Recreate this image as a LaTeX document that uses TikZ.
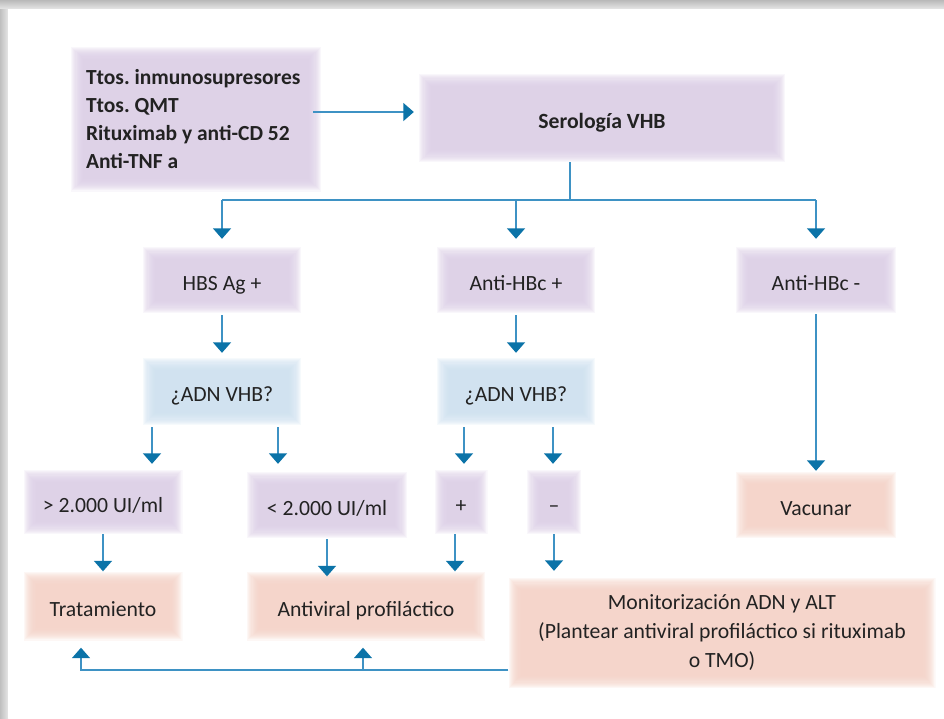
\documentclass[tikz,border=0pt]{standalone}
\usepackage{fontspec}
\setmainfont{Carlito}
\usetikzlibrary{arrows.meta,calc}
\definecolor{lav}{RGB}{220,206,231}
\definecolor{blu}{RGB}{205,225,240}
\definecolor{pch}{RGB}{245,210,199}
\definecolor{lineblue}{RGB}{62,146,196}
\definecolor{headblue}{RGB}{11,115,168}
\definecolor{txt}{RGB}{34,34,34}
\tikzset{
  softbox/.style={inner sep=0pt, text=txt, font=\fontsize{21.7}{28.5}\selectfont,
    path picture={
      \foreach \k in {0,...,11}{
        \fill[#1, opacity=0.16] ([shift={(\k*1.1pt,-\k*1.1pt)}]path picture bounding box.north west)
          rectangle ([shift={(-\k*1.1pt,\k*1.1pt)}]path picture bounding box.south east);
      }}},
  oneline/.style={softbox=#1, text height=20pt, text depth=0pt},
  plain/.style={draw=lineblue, line width=1.5pt},
  arr/.style={plain, -{Triangle[width=18pt,length=10.5pt,color=headblue]}},
}
\begin{document}
\begin{tikzpicture}[x=1pt,y=-1pt]
\useasboundingbox (0,0) rectangle (944,718);
% frame
\shade[top color=gray!55, bottom color=gray!20] (0,0) rectangle (944,9);
\shade[left color=gray!50, right color=gray!20] (0,9) rectangle (8,718);
\fill[white] (8,9) rectangle (944,718);

% nodes
\node[softbox=lav, minimum width=250pt, minimum height=145pt, text width=220pt, align=flush left, font=\fontsize{21.5}{28}\selectfont\bfseries\frenchspacing] (src) at (196,119)
  {Ttos. inmunosupresores\\Ttos. QMT\\Rituximab y anti-CD 52\\Anti-TNF a};
\node[oneline=lav, minimum width=366pt, minimum height=88pt, font=\fontsize{21.7}{28}\selectfont\bfseries] (sero) at (602,118) {Serología VHB};

\node[oneline=lav, minimum width=158pt, minimum height=66pt] (hbs) at (222,280) {HBS Ag +};
\node[oneline=lav, minimum width=158pt, minimum height=66pt] (ahp) at (516,280) {Anti-HBc +};
\node[oneline=lav, minimum width=160pt, minimum height=66pt] (ahm) at (816,280) {Anti-HBc -};

\node[oneline=blu, minimum width=158pt, minimum height=67pt] (adn1) at (222,391.5) {¿ADN VHB?};
\node[oneline=blu, minimum width=158pt, minimum height=67pt] (adn2) at (516,391.5) {¿ADN VHB?};

\node[oneline=lav, minimum width=159pt, minimum height=64pt] (gt) at (103,502) {> 2.000 UI/ml};
\node[oneline=lav, minimum width=160pt, minimum height=66pt] (lt) at (327,505) {< 2.000 UI/ml};
\node[oneline=lav, minimum width=53pt, minimum height=64pt] (pos) at (461,502) {+};
\node[oneline=lav, minimum width=54pt, minimum height=64pt] (neg) at (554,502) {–};
\node[oneline=pch, minimum width=160pt, minimum height=66pt] (vac) at (816,505) {Vacunar};

\node[oneline=pch, minimum width=159pt, minimum height=69pt] (trat) at (103,606) {Tratamiento};
\node[oneline=pch, minimum width=238pt, minimum height=69pt] (anti) at (366,606) {Antiviral profiláctico};
\node[softbox=pch, minimum width=427pt, minimum height=110pt, align=center, font=\fontsize{21.7}{29}\selectfont] (mon) at (722,633)
  {Monitorización ADN y ALT\\(Plantear antiviral profiláctico si rituximab\\o TMO)};

% connectors
\draw[arr, shorten >=5pt] ([xshift=-8pt,yshift=7pt]src.east) -- ([yshift=6pt]sero.west);

\coordinate (split) at ([xshift=-32pt,yshift=-38pt]sero.south);
\draw[plain] ([xshift=-32pt]sero.south) -- (split);
\draw[plain] (split -| hbs.north) -- (split -| ahm.north);
\draw[arr, shorten >=8pt] (split -| hbs.north) -- (hbs.north);
\draw[arr, shorten >=8pt] (split -| ahp.north) -- (ahp.north);
\draw[arr, shorten >=8pt] (split -| ahm.north) -- (ahm.north);

\draw[arr, shorten <=2pt, shorten >=5pt] (hbs.south) -- (adn1.north);
\draw[arr, shorten <=2pt, shorten >=5pt] (ahp.south) -- (adn2.north);
\draw[arr, shorten <=1pt, shorten >=1pt] (ahm.south) -- (vac.north);

\coordinate (a1) at ([xshift=-70pt]adn1.south);
\coordinate (a2) at ([xshift=56pt]adn1.south);
\coordinate (a3) at ([xshift=-52pt]adn2.south);
\coordinate (a4) at ([xshift=37pt]adn2.south);
\draw[arr, shorten <=2pt, shorten >=6pt] (a1) -- (a1 |- gt.north);
\draw[arr, shorten <=2pt, shorten >=8pt] (a2) -- (a2 |- lt.north);
\draw[arr, shorten <=2pt, shorten >=6pt] (a3) -- (a3 |- pos.north);
\draw[arr, shorten <=2pt, shorten >=6pt] (a4) -- (a4 |- neg.north);

\draw[arr, shorten >=0pt] (gt.south) -- (trat.north);
\draw[arr, shorten <=1pt, shorten >=-5pt] (lt.south) -- (lt.south |- anti.north);
\coordinate (p1) at ([xshift=-6pt]pos.south);
\draw[arr, shorten >=0pt] (p1) -- (p1 |- anti.north);
\draw[arr, shorten >=7pt] (neg.south) -- (neg.south |- mon.north);

\coordinate (f) at ([yshift=-37pt]mon.west);
\coordinate (t1) at ([xshift=-22pt]trat.south);
\coordinate (t2) at ([xshift=-3pt]anti.south);
\draw[arr, shorten >=7pt] (f) -- (f -| t1) -- (t1);
\draw[arr, shorten >=7pt] (f -| t2) -- (t2);
\end{tikzpicture}
\end{document}
